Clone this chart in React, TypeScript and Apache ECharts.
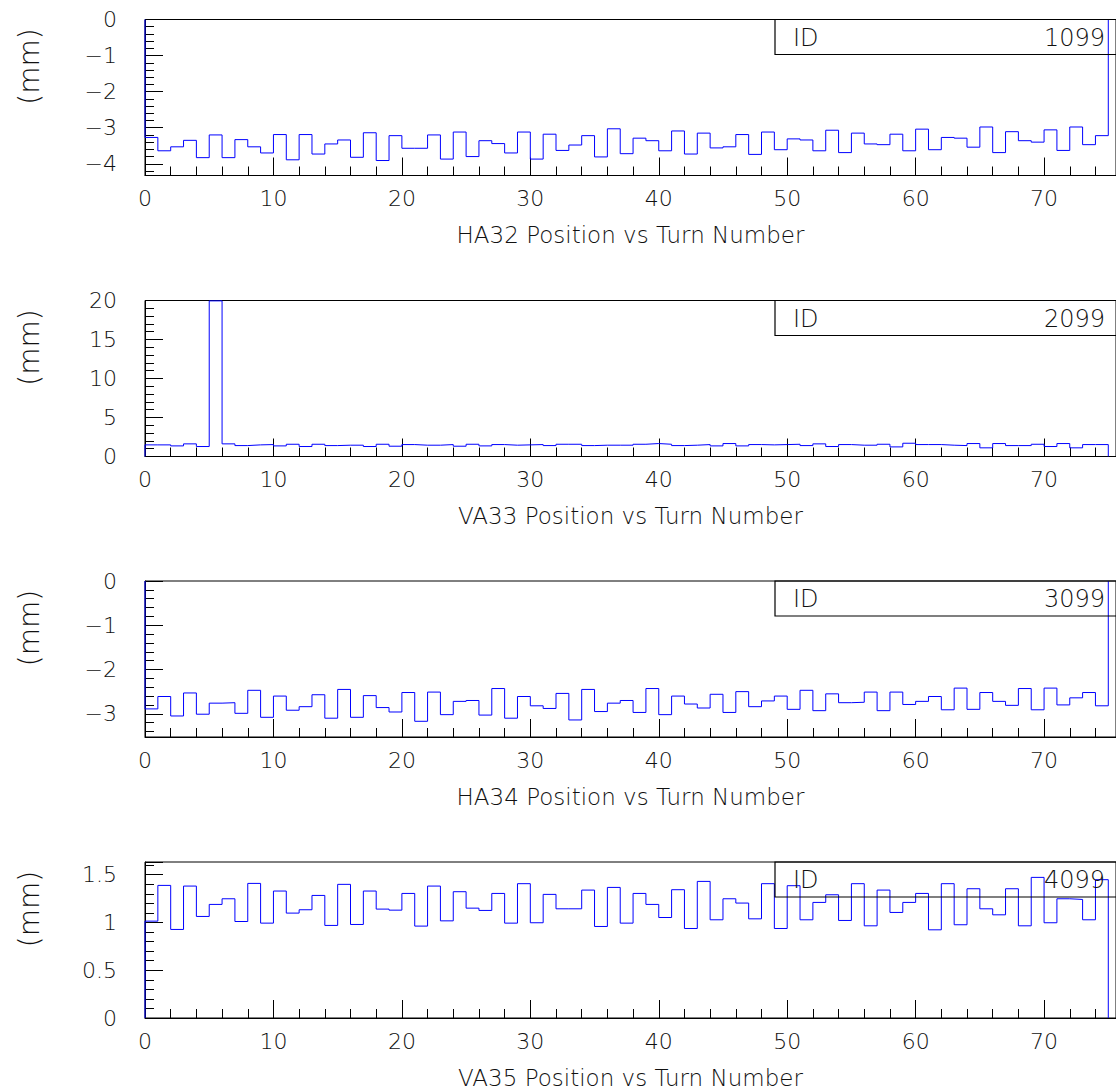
import React, { useEffect, useRef } from 'react';
import * as echarts from 'echarts';

// ---- data (bin contents, one bin per turn, bins start at turn 0) ----
const ha32 = [
  -3.27, -3.64, -3.53, -3.35, -3.83, -3.2, -3.83, -3.33, -3.53, -3.7,
  -3.19, -3.89, -3.19, -3.73, -3.45, -3.34, -3.82, -3.14, -3.91, -3.22,
  -3.57, -3.57, -3.2, -3.87, -3.12, -3.8, -3.36, -3.44, -3.7, -3.12,
  -3.87, -3.18, -3.63, -3.48, -3.22, -3.81, -3.03, -3.72, -3.29, -3.36,
  -3.64, -3.09, -3.73, -3.15, -3.56, -3.53, -3.19, -3.74, -3.12, -3.61,
  -3.31, -3.34, -3.64, -3.07, -3.69, -3.15, -3.45, -3.47, -3.18, -3.64,
  -3.04, -3.61, -3.27, -3.29, -3.54, -2.98, -3.69, -3.11, -3.36, -3.4,
  -3.06, -3.63, -2.98, -3.47, -3.22,
];
const va33 = [
  1.49, 1.49, 1.36, 1.62, 1.28, 19.95, 1.62, 1.4, 1.49, 1.53,
  1.36, 1.57, 1.28, 1.57, 1.4, 1.45, 1.45, 1.28, 1.57, 1.32,
  1.53, 1.45, 1.45, 1.53, 1.32, 1.57, 1.36, 1.53, 1.45, 1.49,
  1.53, 1.4, 1.57, 1.57, 1.4, 1.45, 1.45, 1.45, 1.57, 1.66,
  1.57, 1.4, 1.45, 1.53, 1.36, 1.66, 1.36, 1.53, 1.49, 1.53,
  1.57, 1.4, 1.62, 1.28, 1.53, 1.45, 1.45, 1.57, 1.23, 1.7,
  1.53, 1.53, 1.45, 1.4, 1.66, 1.11, 1.66, 1.4, 1.4, 1.57,
  1.28, 1.66, 1.11, 1.53, 1.53,
];
const ha34 = [
  -2.89, -2.61, -3.05, -2.53, -3.01, -2.76, -2.75, -2.99, -2.47, -3.08,
  -2.6, -2.92, -2.84, -2.57, -3.1, -2.45, -3.08, -2.59, -2.86, -2.96,
  -2.52, -3.17, -2.51, -3.02, -2.72, -2.7, -3.03, -2.43, -3.1, -2.61,
  -2.82, -2.88, -2.54, -3.14, -2.45, -2.95, -2.76, -2.7, -2.97, -2.43,
  -3.02, -2.6, -2.78, -2.87, -2.56, -2.97, -2.5, -2.84, -2.71, -2.6,
  -2.9, -2.47, -2.93, -2.55, -2.75, -2.74, -2.51, -2.93, -2.51, -2.79,
  -2.72, -2.61, -2.91, -2.42, -2.9, -2.52, -2.72, -2.81, -2.43, -2.91,
  -2.42, -2.8, -2.64, -2.52, -2.82,
];
const va35 = [
  1.014, 1.388, 0.927, 1.381, 1.063, 1.189, 1.248, 1.01, 1.409, 0.993,
  1.329, 1.098, 1.133, 1.283, 0.969, 1.399, 0.979, 1.329, 1.14, 1.129,
  1.304, 0.962, 1.381, 1.017, 1.322, 1.15, 1.126, 1.304, 0.993, 1.406,
  0.997, 1.294, 1.143, 1.143, 1.339, 0.958, 1.367, 0.993, 1.304, 1.189,
  1.052, 1.343, 0.937, 1.43, 1.028, 1.248, 1.203, 1.038, 1.406, 0.937,
  1.385, 1.028, 1.21, 1.29, 1.021, 1.406, 0.965, 1.339, 1.105, 1.21,
  1.304, 0.923, 1.406, 0.976, 1.353, 1.143, 1.08, 1.353, 0.965, 1.472,
  0.997, 1.248, 1.241, 1.028, 1.448,
];

const seriesValues = [ha32, va33, ha34, va35];
const panelTitles = [
  'HA32 Position vs Turn Number',
  'VA33 Position vs Turn Number',
  'HA34 Position vs Turn Number',
  'VA35 Position vs Turn Number',
];
const panelIds = ['1099', '2099', '3099', '4099'];
const yUnit = '(mm)';
const yMins = [-4.325, 0, -3.525, 0];
const yMaxs = [0, 20, 0, 1.633];
const yIntervals: (number | null)[] = [null, 5, null, 0.5];
const xMin = 0;
const xMax = 75.6;
const xInterval = 10;

// ---- layout ----
const PANEL_TOPS = [19.5, 300.5, 581, 862];
const PANEL_H = 156;
const PLOT_LEFT = 145;
const PLOT_W = 975;
const FONT = 'DejaVu Sans';
const FW = 200;
const TXT = '#111';

function fmt(v: number): string {
  if (v < 0) return '\u2212' + String(Math.round(-v * 1000) / 1000);
  return String(Math.round(v * 1000) / 1000);
}

export default function App() {
  const ref = useRef<HTMLDivElement>(null);
  useEffect(() => {
    if (!ref.current) return;
    const chart = echarts.init(ref.current, undefined, { renderer: 'svg' });
    const grids: any[] = [];
    const xAxes: any[] = [];
    const yAxes: any[] = [];
    const series: any[] = [];
    const graphics: any[] = [];
    seriesValues.forEach((vals, i) => {
      const top = PANEL_TOPS[i];
      grids.push({
        left: PLOT_LEFT,
        top,
        width: PLOT_W,
        height: PANEL_H,
        show: true,
        borderColor: '#000',
        borderWidth: 1,
        backgroundColor: 'transparent',
      });
      xAxes.push({
        type: 'value',
        gridIndex: i,
        min: xMin,
        max: xMax,
        interval: xInterval,
        axisLine: { show: true, onZero: false, lineStyle: { color: '#000', width: 1 } },
        axisTick: { show: true, inside: true, length: 18, lineStyle: { color: '#000', width: 1 } },
        minorTick: { show: true, splitNumber: 5, length: 9, lineStyle: { color: '#000', width: 1 } },
        splitLine: { show: false },
        minorSplitLine: { show: false },
        axisLabel: {
          margin: 12,
          fontSize: 22,
          fontFamily: FONT,
          fontWeight: FW,
          color: TXT,
          showMaxLabel: false,
          formatter: (v: number) => fmt(v),
        },
        name: panelTitles[i],
        nameLocation: 'middle',
        nameGap: 48,
        nameTextStyle: { fontSize: 23, fontFamily: FONT, fontWeight: FW, color: TXT },
      });
      const ya: any = {
        type: 'value',
        gridIndex: i,
        min: yMins[i],
        max: yMaxs[i],
        axisLine: { show: true, onZero: false, lineStyle: { color: '#000', width: 1 } },
        axisTick: { show: true, inside: true, length: 18, lineStyle: { color: '#000', width: 1 } },
        minorTick: { show: true, splitNumber: 5, length: 9, lineStyle: { color: '#000', width: 1 } },
        splitLine: { show: false },
        minorSplitLine: { show: false },
        axisLabel: {
          margin: 28,
          fontSize: 22,
          fontFamily: FONT,
          fontWeight: FW,
          color: TXT,
          showMinLabel: yMins[i] === 0,
          showMaxLabel: i !== 3,
          formatter: (v: number) => fmt(v),
        },
      };
      if (yIntervals[i] != null) ya.interval = yIntervals[i];
      yAxes.push(ya);
      const data: number[][] = [[0, 0]];
      vals.forEach((v, k) => data.push([k, v]));
      data.push([vals.length, 0]);
      series.push({
        type: 'line',
        xAxisIndex: i,
        yAxisIndex: i,
        step: 'end',
        data,
        symbol: 'none',
        lineStyle: { color: '#0000ff', width: 1 },
        z: 3,
      });
      // statistics box
      graphics.push({
        type: 'rect',
        shape: { x: 775, y: top, width: 400, height: 35 },
        style: { fill: 'none', stroke: '#000', lineWidth: 1.2 },
        z: 10,
      });
      graphics.push({
        type: 'text',
        x: 793,
        y: top + 18,
        style: {
          text: 'ID',
          fontSize: 24,
          fontFamily: FONT,
          fontWeight: FW,
          fill: TXT,
          textAlign: 'left',
          textVerticalAlign: 'middle',
        },
        z: 11,
      });
      graphics.push({
        type: 'text',
        x: 1105,
        y: top + 18,
        style: {
          text: panelIds[i],
          fontSize: 24,
          fontFamily: FONT,
          fontWeight: FW,
          fill: TXT,
          textAlign: 'right',
          textVerticalAlign: 'middle',
        },
        z: 11,
      });
      graphics.push({
        type: 'text',
        x: 29,
        y: top + 47,
        rotation: Math.PI / 2,
        style: {
          text: yUnit,
          fontSize: 28,
          fontFamily: FONT,
          fontWeight: FW,
          fill: TXT,
          textAlign: 'center',
          textVerticalAlign: 'middle',
        },
        z: 11,
      });
    });
    chart.setOption({
      animation: false,
      backgroundColor: '#ffffff',
      grid: grids,
      xAxis: xAxes,
      yAxis: yAxes,
      series,
      graphic: graphics,
    });
    return () => chart.dispose();
  }, []);
  return (
    <div
      ref={ref}
      style={{ position: 'fixed', left: 0, top: 0, width: 1116, height: 1091, background: '#fff' }}
    />
  );
}
